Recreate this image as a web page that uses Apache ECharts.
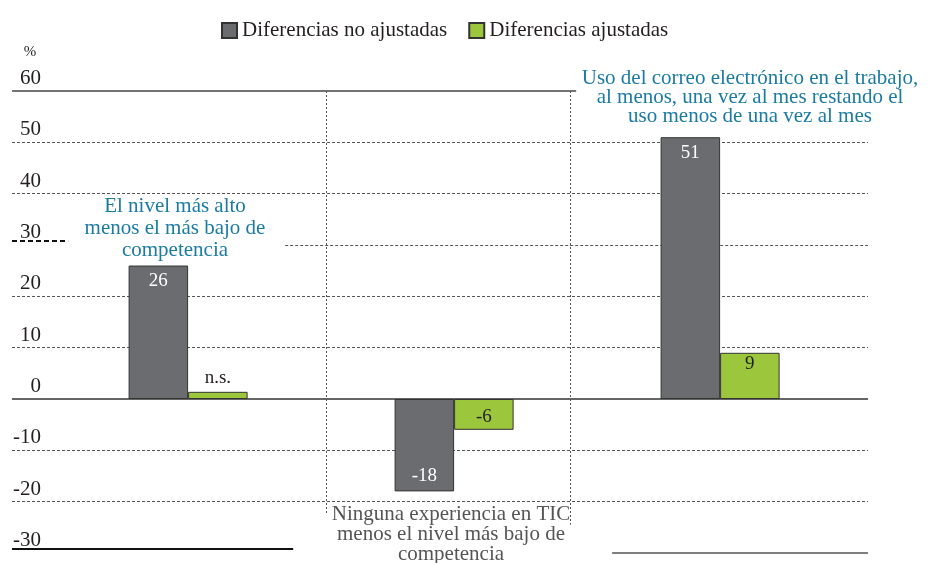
<!DOCTYPE html>
<html>
<head>
<meta charset="utf-8">
<script src="https://cdn.jsdelivr.net/npm/echarts@6/dist/echarts.min.js"></script>
<style>html,body{margin:0;padding:0;background:#fff;}#c{width:931px;height:563px;}</style>
</head>
<body>
<div id="c"></div>
<script>
// ---- data ----
const categories = [
  'El nivel más alto\nmenos el más bajo de\ncompetencia',
  'Ninguna experiencia en TIC\nmenos el nivel más bajo de\ncompetencia',
  'Uso del correo electrónico en el trabajo,\nal menos, una vez al mes restando el\nuso menos de una vez al mes'
];
const seriesNames = ['Diferencias no ajustadas', 'Diferencias ajustadas'];
const unadjusted = [26, -18, 51];
const adjusted = [1.4, -6, 9];
const adjustedSignificant = [false, true, true];
const yMin = -30, yMax = 60, yStep = 10;
const yTicks = [-30, -20, -10, 0, 10, 20, 30, 40, 50, 60];

// ---- layout helpers (axis units) ----
const XMIN = -0.662, XMAX = 2.556;
const FONT = '"Liberation Serif", "Times New Roman", serif';
const dotted = { type: [3, 2], color: '#555', width: 1 };
function seg(x1, x2, y1, y2, style) {
  return [{ coord: [x1, y1], lineStyle: style }, { coord: [x2, y2] }];
}
const gridLines = [];
yTicks.forEach(t => {
  if (t === 60) gridLines.push(seg(XMIN, 1.459, t, t, { type: 'solid', color: '#444', width: 1.5 }));
  else if (t === 0) gridLines.push(seg(XMIN, XMAX, t, t, { type: 'solid', color: '#333', width: 1.5 }));
  else if (t === -30) {
    gridLines.push(seg(XMIN, 0.395, t + 0.8, t + 0.8, { type: 'solid', color: '#111', width: 2 }));
    gridLines.push(seg(1.594, XMAX, t, t, { type: 'solid', color: '#555', width: 1.5 }));
  } else if (t === 30) {
    gridLines.push(seg(XMIN, -0.451, t + 0.8, t + 0.8, { type: [5, 3], color: '#111', width: 2 }));
    gridLines.push(seg(0.365, XMAX, t, t, dotted));
  } else gridLines.push(seg(XMIN, XMAX, t, t, dotted));
});
// vertical separators
gridLines.push(seg(0.519, 0.519, 60, -22.5, { type: [2, 2], color: '#555', width: 1 }));
gridLines.push(seg(1.436, 1.436, 60, -24.5, { type: [2, 2], color: '#555', width: 1 }));

const grayColor = '#6b6c70', greenColor = '#9cc63b';
const unadjPos = unadjusted.map(v => v < 0 ? 'insideBottom' : 'insideTop');
const adjPos = adjusted.map((v, i) => !adjustedSignificant[i] ? 'top' : (v < 0 ? 'inside' : 'insideTop'));

const chart = echarts.init(document.getElementById('c'), null, { renderer: 'canvas' });
chart.setOption({
  animation: false,
  textStyle: { fontFamily: FONT },
  legend: {
    left: 216, top: 15, itemWidth: 15, itemHeight: 15, itemGap: 21,
    icon: 'rect',
    textStyle: { fontFamily: FONT, fontSize: 21, color: '#231f20' },
    data: seriesNames
  },
  grid: { left: 12, right: 63, top: 91, bottom: 10 },
  xAxis: { type: 'value', min: XMIN, max: XMAX, show: false },
  yAxis: {
    type: 'value', min: yMin, max: yMax, interval: yStep,
    offset: -31,
    axisLine: { show: false }, axisTick: { show: false }, splitLine: { show: false },
    axisLabel: { fontFamily: FONT, fontSize: 21, color: '#231f20', margin: 2, align: 'right', verticalAlign: 'bottom', padding: [0, 0, 2, 0] }
  },
  graphic: [
    { type: 'text', z: 10, style: { text: '%', x: 30, y: 52, align: 'center', verticalAlign: 'middle', textAlign: 'center', textVerticalAlign: 'middle', font: '15px ' + FONT, fill: '#231f20' } },
    { type: 'text', z: 10, style: { text: categories[0], x: 175, y: 228, align: 'center', verticalAlign: 'middle', textAlign: 'center', textVerticalAlign: 'middle', lineHeight: 22, font: '21px ' + FONT, fill: '#1b7ba3' } },
    { type: 'text', z: 10, style: { text: categories[1], x: 451, y: 534, align: 'center', verticalAlign: 'middle', textAlign: 'center', textVerticalAlign: 'middle', lineHeight: 20, font: '21px ' + FONT, fill: '#555' } },
    { type: 'text', z: 10, style: { text: categories[2], x: 750, y: 97, align: 'center', verticalAlign: 'middle', textAlign: 'center', textVerticalAlign: 'middle', lineHeight: 19, font: '21px ' + FONT, fill: '#1b7ba3' } }
  ],
  series: [
    {
      name: 'grid', type: 'line', data: [], z: 1, silent: true,
      markLine: { silent: true, z: 1, symbol: 'none', label: { show: false }, data: gridLines }
    },
    {
      name: seriesNames[0], type: 'bar', barWidth: 59.5, barGap: '0%', z: 3,
      itemStyle: { color: grayColor, borderColor: '#333', borderWidth: 1 },
      data: unadjusted.map((v, i) => ({
        value: [i, v],
        label: { show: true, position: unadjPos[i], distance: 6, formatter: String(v), color: '#fff', fontSize: 19, fontFamily: FONT }
      }))
    },
    {
      name: seriesNames[1], type: 'bar', barWidth: 59.5, barGap: '0%', z: 3,
      itemStyle: { color: greenColor, borderColor: '#333', borderWidth: 1 },
      data: adjusted.map((v, i) => ({
        value: [i, v],
        label: { show: true, position: adjPos[i], distance: adjustedSignificant[i] ? 2 : 4, offset: v < 0 ? [0, 3] : [0, 0], formatter: adjustedSignificant[i] ? String(v) : 'n.s.', color: '#231f20', fontSize: 19, fontFamily: FONT }
      }))
    }
  ]
});
</script>
</body>
</html>
